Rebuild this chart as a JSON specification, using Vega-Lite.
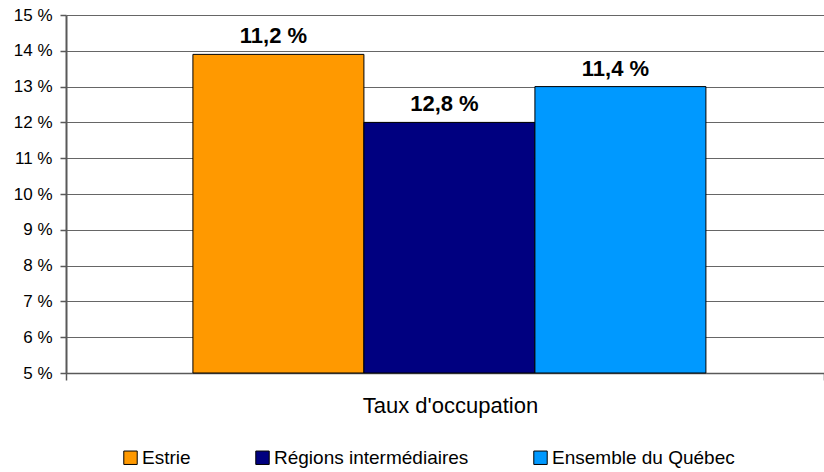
{
  "$schema": "https://vega.github.io/schema/vega-lite/v6.json",
  "width": 758,
  "height": 358,
  "autosize": {"type": "none"},
  "padding": {"left": 66, "top": 15, "right": 0, "bottom": 99},
  "background": "white",
  "config": {
    "view": {"stroke": null},
    "font": "Liberation Sans"
  },
  "data": {
    "values": [
      {"cat": "Taux d'occupation", "series": "Estrie", "value": 13.9, "label": "11,2 %"},
      {"cat": "Taux d'occupation", "series": "Régions intermédiaires", "value": 12.0, "label": "12,8 %"},
      {"cat": "Taux d'occupation", "series": "Ensemble du Québec", "value": 13.0, "label": "11,4 %"}
    ]
  },
  "encoding": {
    "x": {
      "field": "cat",
      "type": "nominal",
      "scale": {"paddingInner": 0, "paddingOuter": 0},
      "axis": {
        "title": "Taux d'occupation",
        "labels": false,
        "tickBand": "extent",
        "tickSize": 7,
        "tickColor": "#595959",
        "tickWidth": 1.5,
        "domainColor": "#595959",
        "domainWidth": 1.5,
        "titleFont": "Liberation Sans",
        "titleFontSize": 22,
        "titleFontWeight": "normal",
        "titleColor": "black",
        "titleX": 384,
        "titleY": 39,
        "titleBaseline": "alphabetic",
        "titleAnchor": null,
        "titleAlign": "center"
      }
    },
    "xOffset": {
      "field": "series",
      "type": "nominal",
      "sort": ["Estrie", "Régions intermédiaires", "Ensemble du Québec"],
      "scale": {"paddingInner": 0, "paddingOuter": 0.7164, "align": 0.518}
    },
    "y": {
      "field": "value",
      "type": "quantitative",
      "scale": {"domain": [5, 15], "nice": false, "zero": false},
      "axis": {
        "title": null,
        "values": [5, 6, 7, 8, 9, 10, 11, 12, 13, 14, 15],
        "labelExpr": "datum.value + ' %'",
        "labelFont": "Liberation Sans",
        "labelFontSize": 17,
        "labelColor": "black",
        "labelPadding": 8,
        "tickSize": 6,
        "tickColor": "#595959",
        "tickWidth": 1.5,
        "domainColor": "#595959",
        "domainWidth": 2,
        "grid": true,
        "gridColor": "#666666",
        "gridWidth": 1
      }
    }
  },
  "layer": [
    {
      "mark": {"type": "bar", "stroke": "black", "strokeWidth": 1},
      "encoding": {
        "y2": {"datum": 5},
        "color": {
          "field": "series",
          "type": "nominal",
          "sort": ["Estrie", "Régions intermédiaires", "Ensemble du Québec"],
          "scale": {
            "domain": ["Estrie", "Régions intermédiaires", "Ensemble du Québec"],
            "range": ["#FF9900", "#000080", "#0099FF"]
          },
          "legend": {
            "title": null,
            "orient": "none",
            "direction": "horizontal",
            "legendX": 55,
            "legendY": 433,
            "symbolType": "square",
            "symbolSize": 180,
            "symbolStrokeColor": "black",
            "symbolStrokeWidth": 1,
            "symbolOpacity": 1,
            "labelFont": "Liberation Sans",
            "labelFontSize": 19,
            "labelColor": "black",
            "labelOffset": 2,
            "labelLimit": 400,
            "columnPadding": 62,
            "padding": 0
          }
        }
      }
    },
    {
      "mark": {"type": "text", "fontWeight": "bold", "fontSize": 22, "font": "Liberation Sans", "baseline": "alphabetic", "dy": -11, "dx": -5, "color": "black"},
      "encoding": {
        "text": {"field": "label"}
      }
    }
  ]
}
